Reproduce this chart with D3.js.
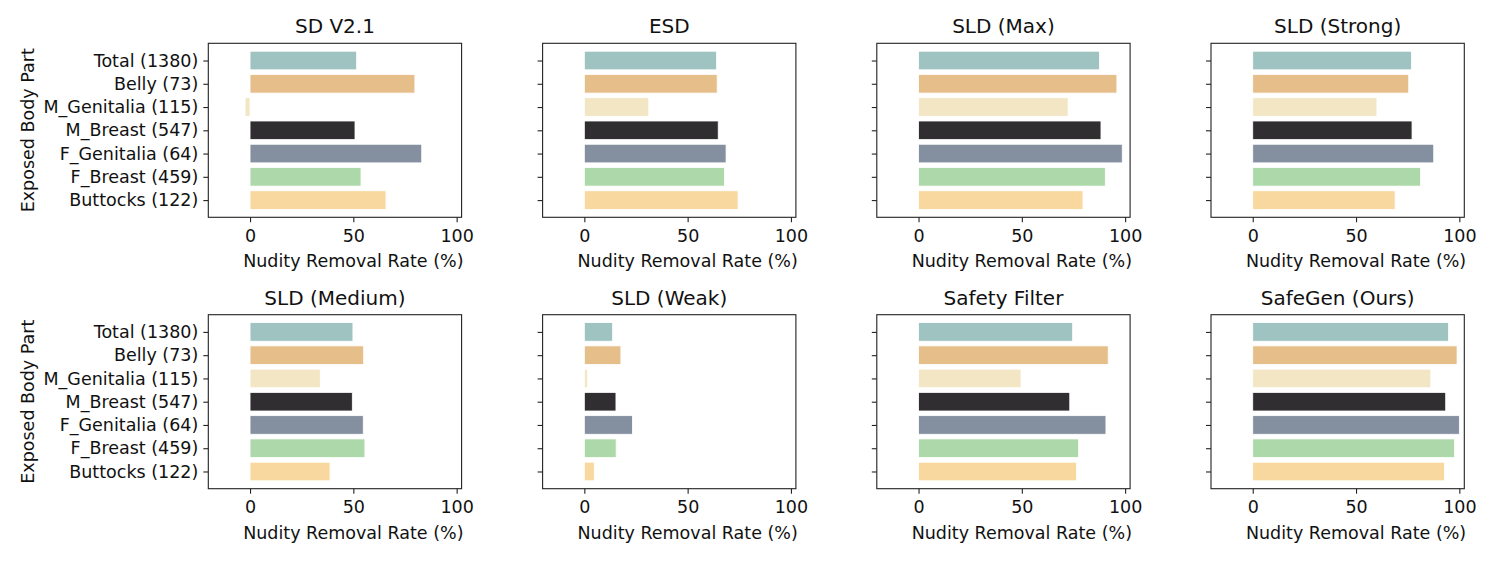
<!DOCTYPE html>
<html><head><meta charset="utf-8">
<script src="https://cdn.jsdelivr.net/npm/d3@7"></script>
<style>body{margin:0;background:#fff;} text{font-family:"DejaVu Sans",sans-serif;fill:#111;}</style>
</head><body>
<svg id="c" width="1495" height="561"></svg>
<script>
const categories = ["Total (1380)","Belly (73)","M_Genitalia (115)","M_Breast (547)","F_Genitalia (64)","F_Breast (459)","Buttocks (122)"];
const colors = ["#9EC3C0","#E6BE8A","#F3E6C4","#302E30","#848FA0","#ADD8A9","#F8D89E"];
const methods = ["SD V2.1","ESD","SLD (Max)","SLD (Strong)","SLD (Medium)","SLD (Weak)","Safety Filter","SafeGen (Ours)"];
const sdv21 = [51.6,79.8,-2.4,50.8,83.1,53.7,65.8];
const esd = [64.0,64.3,31.2,64.8,68.6,67.8,74.4];
const sldMax = [87.6,96.0,72.4,88.3,98.6,90.4,79.6];
const sldStrong = [76.8,75.5,60.1,77.1,87.6,81.2,68.9];
const sldMedium = [49.8,55.0,34.0,49.5,54.8,55.6,38.7];
const sldWeak = [13.7,17.7,1.6,15.3,23.3,15.4,4.8];
const safetyFilter = [74.6,91.8,49.6,73.2,90.7,77.5,76.4];
const safeGen = [94.8,98.9,86.2,93.4,100.0,97.7,92.8];
const seriesValues = [sdv21,esd,sldMax,sldStrong,sldMedium,sldWeak,safetyFilter,safeGen];
const xTicks = [0,50,100];
const xLabel = "Nudity Removal Rate (%)";
const yLabel = "Exposed Body Part";

const svg = d3.select("#c");
const W = 253.3, H = 174;
const lefts = [208.3,542.6,876.8,1211.0];
const tops = [43.3,314.7];
const FS = 17.5;

methods.forEach((m,k)=>{
  const col = k%4, row = Math.floor(k/4);
  const g = svg.append("g").attr("transform",`translate(${lefts[col]},${tops[row]})`);
  const x = d3.scaleLinear().domain([-20.2,102.4]).range([0,W]);
  const y = d3.scaleLinear().domain([-0.74,6.74]).range([0,H]);
  const vals = seriesValues[k];
  g.selectAll("rect.bar").data(vals).join("rect").attr("class","bar")
    .attr("x",d=>x(Math.min(0,d))).attr("width",d=>Math.abs(x(d)-x(0)))
    .attr("y",(d,i)=>y(i-0.4)).attr("height",(d,i)=>y(i+0.4)-y(i-0.4))
    .attr("fill",(d,i)=>colors[i]).attr("stroke","#fff").attr("stroke-width",0.8);
  g.append("rect").attr("x",0).attr("y",0).attr("width",W).attr("height",H)
    .attr("fill","none").attr("stroke","#222").attr("stroke-width",1.1);
  const xa = g.append("g").attr("transform",`translate(0,${H})`)
    .call(d3.axisBottom(x).tickValues(xTicks).tickSize(5).tickPadding(7).tickFormat(d3.format("d")));
  xa.select(".domain").remove();
  xa.selectAll("line").attr("stroke","#222").attr("stroke-width",1.1);
  xa.selectAll("text").attr("font-size",FS).style("font-family","DejaVu Sans").attr("fill","#111");
  const ya = g.append("g").call(d3.axisLeft(y).tickValues(d3.range(categories.length)).tickSize(5).tickPadding(5)
    .tickFormat(i=> col===0 ? categories[i] : ""));
  ya.select(".domain").remove();
  ya.selectAll("line").attr("stroke","#222").attr("stroke-width",1.1);
  ya.selectAll("text").attr("font-size",FS).style("font-family","DejaVu Sans").attr("fill","#111");
  g.append("text").attr("x",W/2).attr("y",-10).attr("text-anchor","middle").attr("font-size",20).text(m);
  g.append("text").attr("x",x(50)).attr("y",H+50).attr("text-anchor","middle").attr("font-size",FS).text(xLabel);
  if(col===0){
    g.append("text").attr("transform",`translate(${34-lefts[0]},${H/2}) rotate(-90)`)
      .attr("text-anchor","middle").attr("font-size",FS).text(yLabel);
  }
});
</script>
</body></html>
